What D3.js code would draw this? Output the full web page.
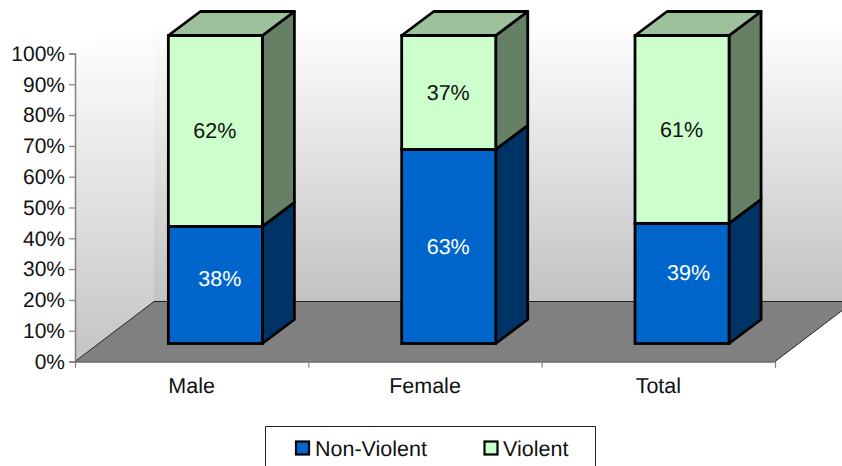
<!DOCTYPE html>
<html><head><meta charset="utf-8">
<script src="https://cdn.jsdelivr.net/npm/d3@7/dist/d3.min.js"></script>
<style>html,body{margin:0;padding:0;background:#fff;overflow:hidden}svg{display:block}text{font-family:"Liberation Sans",Arial,sans-serif;font-size:21.5px;text-rendering:geometricPrecision}</style>
</head><body><svg id="c" width="842" height="466"></svg>
<script>
const categories = ["Male","Female","Total"];
const seriesNames = ["Non-Violent","Violent"];
const nonViolent = [38,63,39];
const violent = [62,37,61];
const yTicks = [0,10,20,30,40,50,60,70,80,90,100];
const frontFill = ["#0066cc","#ccffcc"], sideFill = ["#003366","#668066"], labelFill = ["#fff","#111"];
const topFill = "#9dc19d";
const labelNudge = [[[5,-6],[0,0]],[[0,0],[0,0]],[[7,-11],[0,0]]];

const svg = d3.select("#c");
const L=75,R=775,Bot=361.5,Top=53.5, DX=79, DY=-60, barDX=32, barDY=-24, offX=23.7, offY=-18;
const y = d3.scaleLinear().domain([0,100]).range([Bot,Top]);
const x = d3.scaleBand().domain(categories).range([L,R]).paddingInner(0.597).paddingOuter(0.2985);
const edges = d3.scaleLinear().domain([0,3]).range([L,R]);

const rows = categories.map((c,i)=>({cat:c,"Non-Violent":nonViolent[i],"Violent":violent[i]}));
const stacked = d3.stack().keys(seriesNames)(rows);

const defs = svg.append("defs");
const g1 = defs.append("linearGradient").attr("id","wall").attr("gradientUnits","userSpaceOnUse").attr("x1",0).attr("x2",0).attr("y1",20).attr("y2",Bot+DY);
g1.append("stop").attr("offset",0).attr("stop-color","#ffffff");
g1.append("stop").attr("offset",1).attr("stop-color","#c2c2c2");
const g2 = defs.append("linearGradient").attr("id","side").attr("gradientUnits","userSpaceOnUse").attr("x1",0).attr("x2",0).attr("y1",30).attr("y2",Bot);
g2.append("stop").attr("offset",0).attr("stop-color","#ffffff");
g2.append("stop").attr("offset",1).attr("stop-color","#c4c4c4");

const poly = pts => pts.map(p=>p.join(",")).join(" ");
svg.append("polygon").attr("points",poly([[L+DX,y(100)+DY],[842,y(100)+DY],[842,Bot+DY],[L+DX,Bot+DY]])).attr("fill","url(#wall)");
svg.append("polygon").attr("points",poly([[L,Top],[L+DX,Top+DY],[L+DX,Bot+DY],[L,Bot]])).attr("fill","url(#side)");
svg.append("polygon").attr("points",poly([[L,Bot],[L+DX,Bot+DY],[R+DX,Bot+DY],[R,Bot]])).attr("fill","#808080");
svg.append("path").attr("d",`M${L},${Bot}L${L+DX},${Bot+DY}L842,${Bot+DY}M${R},${Bot}L${R+DX},${Bot+DY}`).attr("fill","none").attr("stroke","#222").attr("stroke-width",1);

const font = '"Liberation Sans",Arial,sans-serif';
const ay = svg.append("g").attr("transform",`translate(${L},0)`).call(d3.axisLeft(y).tickValues(yTicks).tickSize(6).tickPadding(4).tickFormat(d=>d+"%"));
ay.select(".domain").attr("stroke","#808080").attr("stroke-width",1.5);
ay.selectAll(".tick line").attr("stroke","#808080").attr("stroke-width",1.2);
ay.selectAll("text").attr("fill","#111").style("font-size","21px").style("font-family",font);
const ax = svg.append("g").attr("transform",`translate(0,${Bot})`).call(d3.axisBottom(edges).ticks(3).tickSize(6).tickFormat(""));
ax.select(".domain").attr("stroke","#222").attr("stroke-width",1);
ax.selectAll(".tick line").attr("stroke","#808080").attr("stroke-width",1.2);
const ac = svg.append("g").attr("transform",`translate(0,${Bot})`).call(d3.axisBottom(x).tickSize(0).tickPadding(16));
ac.select(".domain").remove();
ac.selectAll("text").attr("fill","#111").style("font-size","21.5px").style("font-family",font);

const sw = 2.8;
categories.forEach((c,i)=>{
  const x0 = x(c)+offX, x1 = x0+x.bandwidth();
  const g = svg.append("g");
  stacked.forEach((s,k)=>{
    const yb = y(s[i][0])+offY, yt = y(s[i][1])+offY;
    g.append("polygon").attr("points",poly([[x1,yb],[x1+barDX,yb+barDY],[x1+barDX,yt+barDY],[x1,yt]]))
      .attr("fill",sideFill[k]).attr("stroke","#000").attr("stroke-width",sw).attr("stroke-linejoin","round");
    g.append("rect").attr("x",x0).attr("y",yt).attr("width",x1-x0).attr("height",yb-yt)
      .attr("fill",frontFill[k]).attr("stroke","#000").attr("stroke-width",sw);
  });
  const yt = y(100)+offY;
  g.append("polygon").attr("points",poly([[x0,yt],[x0+barDX,yt+barDY],[x1+barDX,yt+barDY],[x1,yt]]))
    .attr("fill",topFill).attr("stroke","#000").attr("stroke-width",sw).attr("stroke-linejoin","round");
  stacked.forEach((s,k)=>{
    const [nx,ny] = labelNudge[i][k];
    const v = s[i][1]-s[i][0];
    g.append("text").attr("x",(x0+x1)/2+nx-0.5).attr("y",y((s[i][0]+s[i][1])/2)+offY+ny+0.5)
      .attr("text-anchor","middle").attr("dominant-baseline","central").attr("fill",labelFill[k]).text(v+"%");
  });
});

svg.append("path").attr("d","M265.5,466V426.5H595.5V466").attr("fill","#fff").attr("stroke","#222").attr("stroke-width",1);
const lx = d3.scaleOrdinal().domain(seriesNames).range([296,484.5]);
seriesNames.forEach((n,k)=>{
  svg.append("rect").attr("x",lx(n)).attr("y",441.5).attr("width",13).attr("height",13).attr("fill",frontFill[k]).attr("stroke","#000").attr("stroke-width",2.2);
  svg.append("text").attr("x",lx(n)+(k?18.5:19)).attr("y",449).attr("dominant-baseline","central").attr("fill","#111").text(n);
});
</script></body></html>
